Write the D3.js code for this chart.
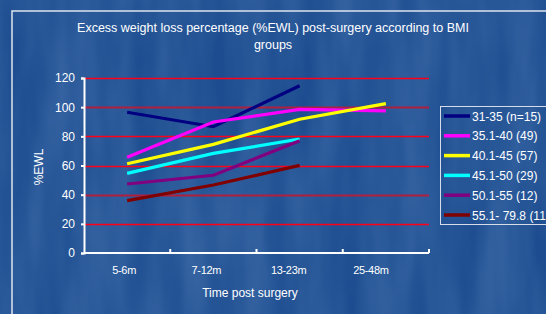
<!DOCTYPE html>
<html>
<head>
<meta charset="utf-8">
<script src="https://cdn.jsdelivr.net/npm/d3@7"></script>
<style>
  html, body { margin: 0; padding: 0; background: #1d4d90; }
  svg { display: block; font-family: "Liberation Sans", Arial, sans-serif; }
</style>
</head>
<body>
<svg id="chart"></svg>
<script>
const periods = ["5-6m", "7-12m", "13-23m", "25-48m"];
const groupNames = ["31-35 (n=15)", "35.1-40 (49)", "40.1-45 (57)", "45.1-50 (29)", "50.1-55 (12)", "55.1- 79.8 (11)"];
const groupColors = ["#000080", "#ff00ff", "#ffff00", "#00ffff", "#800080", "#800000"];
const bmi31 = [96.5, 86.6, 114.7, null];
const bmi35 = [65.6, 89.8, 98.5, 97.4];
const bmi40 = [61.2, 74.5, 91.7, 102.4];
const bmi45 = [54.6, 68.3, 78.2, null];
const bmi50 = [47.3, 53.3, 77.0, null];
const bmi55 = [35.9, 46.6, 60.1, null];
const yTicks = [0, 20, 40, 60, 80, 100, 120];

const series = [bmi31, bmi35, bmi40, bmi45, bmi50, bmi55];

const width = 546, height = 314;
const margin = { top: 78, right: 117, bottom: 61, left: 84 };

const svg = d3.select("#chart")
    .attr("width", width)
    .attr("height", height);

// textured blue background
const defs = svg.append("defs");
const filt = defs.append("filter").attr("id", "tex").attr("x", 0).attr("y", 0).attr("width", "100%").attr("height", "100%");
filt.append("feTurbulence").attr("type", "fractalNoise").attr("baseFrequency", "0.03 0.006").attr("numOctaves", 3).attr("seed", 4).attr("result", "noise");
filt.append("feColorMatrix").attr("in", "noise").attr("type", "matrix")
    .attr("values", "0 0 0 0 0.35  0 0 0 0 0.55  0 0 0 0 0.85  0 0 0 0.28 -0.05");

svg.append("rect").attr("width", width).attr("height", height).attr("fill", "#1d4d90");
svg.append("rect").attr("width", width).attr("height", height).attr("filter", "url(#tex)");

// slide frame
svg.append("path")
    .attr("d", "M12,314 V11 H546")
    .attr("fill", "none")
    .attr("stroke", "#dde4ee")
    .attr("stroke-width", 1.5);

// title
const title = svg.append("text")
    .attr("x", 273)
    .attr("fill", "#ffffff")
    .attr("font-size", 12.5)
    .attr("text-anchor", "middle");
title.append("tspan").attr("x", 273).attr("y", 32).text("Excess weight loss percentage (%EWL) post-surgery according to BMI");
title.append("tspan").attr("x", 273).attr("y", 49).text("groups");

const x = d3.scaleBand()
    .domain(periods)
    .range([margin.left, width - margin.right]);

const y = d3.scaleLinear()
    .domain([0, 120])
    .range([height - margin.bottom, margin.top]);

// gridlines
svg.append("g")
    .selectAll("line")
    .data(yTicks.filter(d => d > 0))
    .enter()
    .append("line")
    .attr("x1", margin.left)
    .attr("x2", width - margin.right)
    .attr("y1", d => Math.round(y(d)) + 0.5)
    .attr("y2", d => Math.round(y(d)) + 0.5)
    .attr("stroke", d => (d === 100 || d === 40) ? "#b0203e" : "#ff0018")
    .attr("stroke-width", d => (d === 100 || d === 40) ? 2 : 1.5);

// y axis
const yAxis = svg.append("g")
    .attr("transform", `translate(${margin.left},0)`)
    .call(d3.axisLeft(y).tickValues(yTicks).tickSize(3).tickPadding(6));
yAxis.select(".domain").attr("stroke", "#ffffff").attr("stroke-width", 2);
yAxis.selectAll(".tick line").attr("stroke", "#ffffff").attr("stroke-width", 2);
yAxis.selectAll(".tick text").attr("fill", "#ffffff").attr("font-size", 12)
    .attr("font-family", "'Liberation Sans', Arial, sans-serif");

// x axis with inward ticks at band edges
const xAxis = svg.append("g")
    .attr("transform", `translate(0,${height - margin.bottom})`);
xAxis.append("line")
    .attr("x1", margin.left)
    .attr("x2", width - margin.right)
    .attr("stroke", "#ffffff")
    .attr("stroke-width", 2);
const edges = periods.map(p => x(p)).concat([x(periods[periods.length - 1]) + x.bandwidth()]);
xAxis.selectAll(".edge")
    .data(edges.slice(1))
    .enter()
    .append("line")
    .attr("class", "edge")
    .attr("x1", d => d).attr("x2", d => d)
    .attr("y1", 0).attr("y2", -4)
    .attr("stroke", "#ffffff")
    .attr("stroke-width", 2);
xAxis.selectAll(".lab")
    .data(periods)
    .enter()
    .append("text")
    .attr("class", "lab")
    .attr("x", (d, i) => x(d) + x.bandwidth() / 2 - 3 - i * 4)
    .attr("y", 21)
    .attr("fill", "#ffffff")
    .attr("font-size", 11)
    .attr("letter-spacing", -0.3)
    .attr("text-anchor", "middle")
    .text(d => d);

// axis titles
svg.append("text")
    .attr("x", 250)
    .attr("y", 297)
    .attr("fill", "#ffffff")
    .attr("font-size", 12)
    .attr("text-anchor", "middle")
    .text("Time post surgery");

svg.append("text")
    .attr("transform", "translate(43,167) rotate(-90)")
    .attr("fill", "#ffffff")
    .attr("font-size", 12)
    .attr("text-anchor", "middle")
    .text("%EWL");

// series lines
const line = d3.line()
    .defined(d => d.v !== null)
    .x(d => x(d.p) + x.bandwidth() / 2)
    .y(d => y(d.v));

svg.append("g")
    .selectAll("path")
    .data(series)
    .enter()
    .append("path")
    .attr("d", s => line(s.map((v, i) => ({ p: periods[i], v: v }))))
    .attr("fill", "none")
    .attr("stroke", (s, i) => groupColors[i])
    .attr("stroke-width", 3.2)
    .attr("stroke-linejoin", "miter");

// legend
const legend = svg.append("g").attr("transform", "translate(440,106)");
legend.append("rect")
    .attr("x", 0.5).attr("y", 0.5)
    .attr("width", 120).attr("height", 118)
    .attr("fill", "none")
    .attr("stroke", "#d6dde8")
    .attr("stroke-width", 1);
const items = legend.selectAll(".item")
    .data(groupNames)
    .enter()
    .append("g")
    .attr("class", "item")
    .attr("transform", (d, i) => `translate(0,${10 + i * 19.8})`);
items.append("line")
    .attr("x1", 4).attr("x2", 30)
    .attr("stroke", (d, i) => groupColors[i])
    .attr("stroke-width", 3.5);
items.append("text")
    .attr("x", 32)
    .attr("y", 4.5)
    .attr("fill", "#ffffff")
    .attr("font-size", 12)
    .text(d => d);
</script>
</body>
</html>
